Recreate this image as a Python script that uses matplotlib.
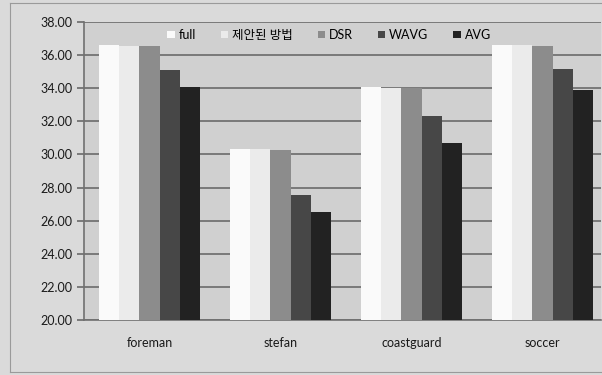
import matplotlib.pyplot as plt
import numpy as np

plt.rcParams['font.family'] = ['Lato', 'Noto Sans CJK KR', 'DejaVu Sans']

sequences = ['foreman', 'stefan', 'coastguard', 'soccer']
methods = ['full', '제안된 방법', 'DSR', 'WAVG', 'AVG']
full = [36.62, 30.35, 34.05, 36.62]
proposed = [36.58, 30.30, 34.02, 36.60]
dsr = [36.55, 30.25, 34.00, 36.58]
wavg = [35.08, 27.55, 32.30, 35.15]
avg = [34.05, 26.55, 30.68, 33.88]
colors = ['#fafafa', '#ebebeb', '#8c8c8c', '#474747', '#222222']

series = [full, proposed, dsr, wavg, avg]

fig = plt.figure(figsize=(6.02, 3.75), dpi=100)
fig.patch.set_facecolor('#dadada')

# outer frame of the chart area
frame = fig.add_axes([10 / 602, 3 / 375, 1.0, 369 / 375])
frame.set_facecolor('#dadada')
for s in ['left', 'bottom', 'top']:
    frame.spines[s].set_color('#9a9a9a')
frame.spines['right'].set_visible(False)
frame.set_xticks([])
frame.set_yticks([])

left, right = 84, 601
ax = fig.add_axes([left / 602, (375 - 320) / 375, (right - left) / 602, 298 / 375])
ax.set_facecolor('#d0d0d0')

x = np.arange(len(sequences))
w = 1 / 6.5
for i, vals in enumerate(series):
    ax.bar(x + (i - 2) * w, vals, width=w, color=colors[i], label=methods[i],
           zorder=3, linewidth=0)

cat_w = 131
ax.set_xlim(-0.5, -0.5 + (right - left) / cat_w)
ax.set_ylim(20, 38)
ticks = np.arange(20, 38.1, 2)
ax.set_yticks(ticks)
ax.set_yticklabels([f'{v:.2f}' for v in ticks], fontsize=9, color='#1a1a1a')
ax.yaxis.grid(True, color='#6a6a6a', linewidth=1.2, zorder=0)
ax.set_xticks(x)
ax.set_xticklabels(sequences, fontsize=9, color='#1a1a1a')
ax.tick_params(axis='x', length=0, pad=12)
ax.tick_params(axis='y', length=5, width=1.2, color='#6a6a6a', pad=3)
ax.spines['left'].set_color('#707070')
ax.spines['left'].set_linewidth(1.2)
ax.spines['bottom'].set_color('#707070')
ax.spines['bottom'].set_linewidth(1.2)
ax.spines['top'].set_visible(False)
ax.spines['right'].set_visible(False)

ax.legend(loc='upper center', bbox_to_anchor=((329 - left) / (right - left), 1.0),
          ncol=5, frameon=False, fontsize=9, handlelength=0.6, handleheight=0.6,
          handletextpad=0.3, columnspacing=2.0, borderaxespad=0.15)

fig.savefig('out.png', dpi=100, facecolor=fig.get_facecolor())
